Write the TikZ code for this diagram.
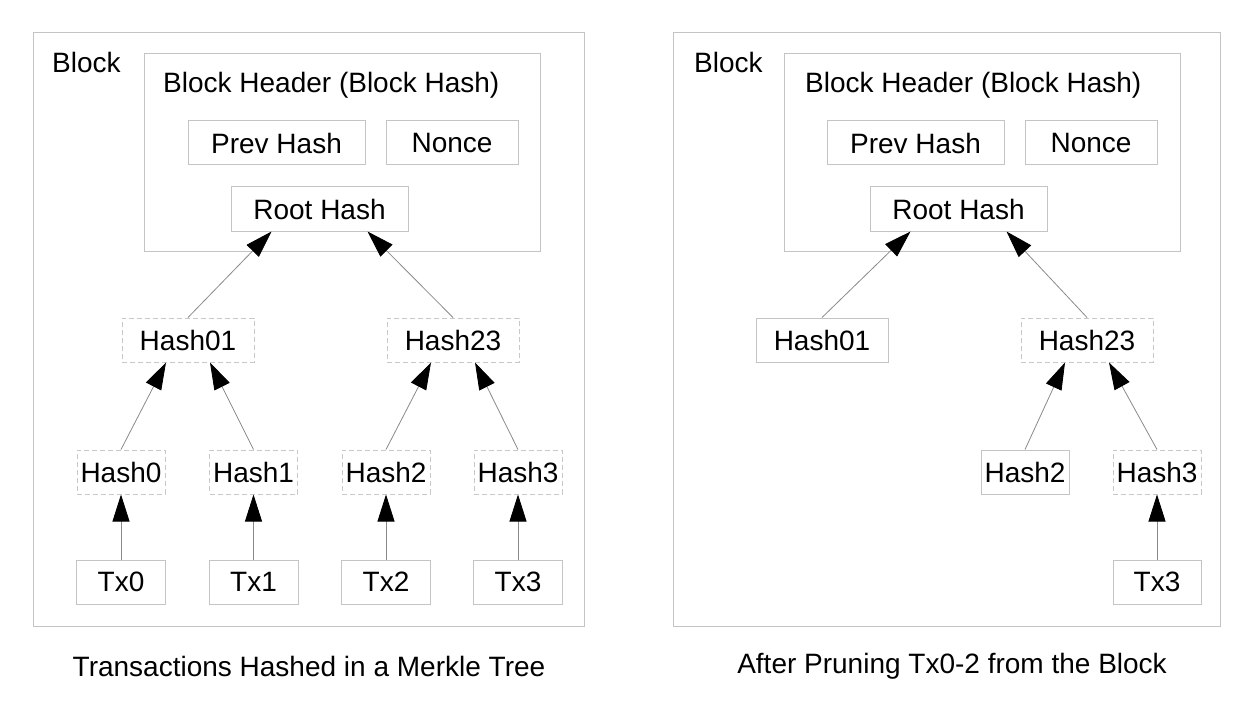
\documentclass[tikz,border=0pt]{standalone}
\usepackage{fontspec}
\setmainfont{Liberation Sans}
\usetikzlibrary{arrows.meta,calc}
\definecolor{boxgray}{HTML}{C4C4C4}
\definecolor{dashgray}{HTML}{C8C8C8}
\definecolor{linegray}{HTML}{8A8A8A}
\tikzset{
  lbl/.style={font=\fontsize{28}{32}\selectfont, inner sep=0pt},
  frame/.style={draw=boxgray, line width=1pt, inner sep=0pt},
  solidbox/.style={draw=boxgray, line width=1pt, inner sep=0pt, minimum height=44pt, font=\fontsize{28}{32}\selectfont},
  dashbox/.style={draw=dashgray, line width=1pt, dash pattern=on 5pt off 3pt, inner sep=0pt, minimum height=44pt, font=\fontsize{28}{32}\selectfont},
  arr/.style={draw=linegray, line width=0.8pt, -{Triangle[length=27pt,width=17pt,fill=black,color=black]}}
}
\begin{document}
\begin{tikzpicture}[x=1pt,y=-1pt]
\useasboundingbox[fill=white] (0,0) rectangle (1252,714);

% ---------- Left panel ----------
\node[frame, minimum width=551pt, minimum height=593pt] (Lblock) at (308.5,329.5) {};
\node[lbl, anchor=west] (Lblocklbl) at (52,62) {Block};
\node[frame, minimum width=396pt, minimum height=197pt] (Lheader) at (342,152.5) {};
\node[lbl, anchor=west] (Lheaderlbl) at (163,85) {Block Header (Block Hash)};
\node[solidbox, minimum width=177pt] (Lprev) at (276.5,143) {Prev Hash};
\node[solidbox, minimum width=132pt] (Lnonce) at (452,143) {Nonce};
\node[solidbox, minimum width=177pt] (Lroot) at (319.5,209) {Root Hash};
\node[dashbox, minimum width=132pt] (Lh01) at (188,340) {Hash01};
\node[dashbox, minimum width=132pt] (Lh23) at (453,340) {Hash23};
\node[dashbox, minimum width=88pt] (Lh0) at (121,472) {Hash0};
\node[dashbox, minimum width=88pt] (Lh1) at (253.5,472) {Hash1};
\node[dashbox, minimum width=88pt] (Lh2) at (386,472) {Hash2};
\node[dashbox, minimum width=88pt] (Lh3) at (518,472) {Hash3};
\node[solidbox, minimum width=89pt] (Ltx0) at (121,582) {Tx0};
\node[solidbox, minimum width=89pt] (Ltx1) at (253.5,582) {Tx1};
\node[solidbox, minimum width=89pt] (Ltx2) at (386,582) {Tx2};
\node[solidbox, minimum width=89pt] (Ltx3) at (518,582) {Tx3};
\node[lbl] (Lcap) at (309,666) {Transactions Hashed in a Merkle Tree};

\draw[arr] (Ltx0.north) -- (Lh0.south);
\draw[arr] (Ltx1.north) -- (Lh1.south);
\draw[arr] (Ltx2.north) -- (Lh2.south);
\draw[arr] (Ltx3.north) -- (Lh3.south);
\draw[arr] (Lh0.north) -- ($(Lh01.south)+(-22,0)$);
\draw[arr] (Lh1.north) -- ($(Lh01.south)+(22,0)$);
\draw[arr] (Lh2.north) -- ($(Lh23.south)+(-22,0)$);
\draw[arr] (Lh3.north) -- ($(Lh23.south)+(22,0)$);
\draw[arr] (Lh01.north) -- ($(Lroot.south)+(-48,0)$);
\draw[arr] (Lh23.north) -- ($(Lroot.south)+(48,0)$);

% ---------- Right panel ----------
\node[frame, minimum width=547pt, minimum height=593pt] (Rblock) at (946.5,329.5) {};
\node[lbl, anchor=west] (Rblocklbl) at (694,62) {Block};
\node[frame, minimum width=396pt, minimum height=197pt] (Rheader) at (982,152.5) {};
\node[lbl, anchor=west] (Rheaderlbl) at (805,85) {Block Header (Block Hash)};
\node[solidbox, minimum width=177pt] (Rprev) at (915.5,143) {Prev Hash};
\node[solidbox, minimum width=132pt] (Rnonce) at (1091,143) {Nonce};
\node[solidbox, minimum width=177pt] (Rroot) at (958.5,209) {Root Hash};
\node[solidbox, minimum width=132pt] (Rh01) at (822,340) {Hash01};
\node[dashbox, minimum width=132pt] (Rh23) at (1087,340) {Hash23};
\node[solidbox, minimum width=88pt] (Rh2) at (1025,472) {Hash2};
\node[dashbox, minimum width=88pt] (Rh3) at (1157,472) {Hash3};
\node[solidbox, minimum width=88pt] (Rtx3) at (1157,582) {Tx3};
\node[lbl] (Rcap) at (952,666) {After Pruning Tx0-2 from the Block};

\draw[arr] (Rtx3.north) -- (Rh3.south);
\draw[arr] (Rh2.north) -- ($(Rh23.south)+(-22,0)$);
\draw[arr] (Rh3.north) -- ($(Rh23.south)+(22,0)$);
\draw[arr] (Rh01.north) -- ($(Rroot.south)+(-48,0)$);
\draw[arr] (Rh23.north) -- ($(Rroot.south)+(48,0)$);
\end{tikzpicture}
\end{document}
